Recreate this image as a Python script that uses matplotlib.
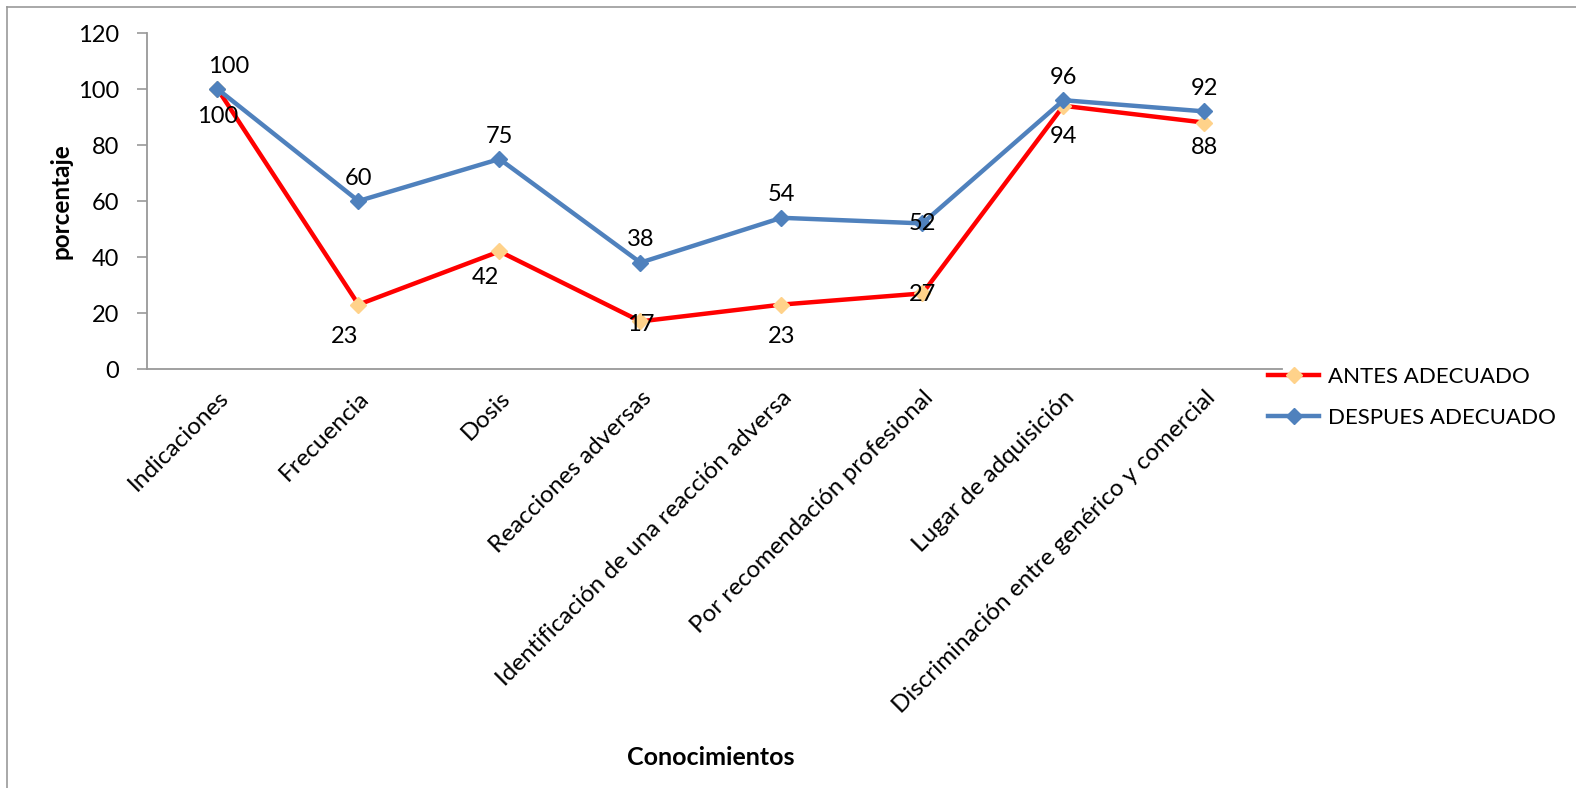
import matplotlib
matplotlib.use("Agg")
import matplotlib.pyplot as plt
from matplotlib.lines import Line2D

categories = ["Indicaciones", "Frecuencia", "Dosis", "Reacciones adversas",
              "Identificación de una reacción adversa", "Por recomendación profesional",
              "Lugar de adquisición", "Discriminación entre genérico y comercial"]
antes = [100, 23, 42, 17, 23, 27, 94, 88]
despues = [100, 60, 75, 38, 54, 52, 96, 92]
yticks = [0, 20, 40, 60, 80, 100, 120]

plt.rcParams['font.family'] = ['Lato', 'DejaVu Sans']

fig = plt.figure(figsize=(15.76, 7.88), dpi=100)
ax = fig.add_axes([147/1576, 1-369/788, (1282-147)/1576, (369-33)/788])

x = list(range(len(categories)))
red = '#FF0000'
orange = '#FFD28A'
blue = '#4F81BD'

ax.plot(x, antes, color=red, lw=3.2, marker='D', ms=8, mfc=orange, mec=orange, zorder=3)
ax.plot(x, despues, color=blue, lw=3.2, marker='D', ms=8, mfc=blue, mec=blue, zorder=4)

ax.set_xlim(-0.5, len(categories) - 0.45)
ax.set_ylim(0, 120)
ax.set_yticks(yticks)
ax.set_yticklabels([str(v) for v in yticks], fontsize=17)
ax.set_xticks(x)
ax.set_xticklabels(categories, rotation=45, ha='right', rotation_mode='anchor', fontsize=17.5)
ax.tick_params(axis='x', length=0, pad=13)
ax.tick_params(axis='y', length=7, color='#999999', width=1.2, pad=13)

for s in ['top', 'right']:
    ax.spines[s].set_visible(False)
for s in ['left', 'bottom']:
    ax.spines[s].set_color('#999999')
    ax.spines[s].set_linewidth(1.3)

# data labels
fs = 17
for i, v in enumerate(despues):
    ax.annotate(str(v), (i, v), xytext=((8 if i == 0 else 0), 16.5 if i != 5 else 0),
                textcoords='offset points', ha='center', va='center', fontsize=fs, zorder=6)
antes_offsets = [(0, -20), (-10, -23), (-10, -19), (0, -2), (0, -23), (0, -1), (0, -22), (0, -18)]
for i, (v, off) in enumerate(zip(antes, antes_offsets)):
    ax.annotate(str(v), (i, v), xytext=off, textcoords='offset points',
                ha='center', va='center', fontsize=fs, zorder=6)

ax.set_xlabel("Conocimientos", fontsize=18, fontweight='bold')
ax.xaxis.set_label_coords((711-147)/(1282-147), (369-746)/(369-33))
ax.set_ylabel("porcentaje", fontsize=17.5, fontweight='bold')
ax.yaxis.set_label_coords((73-147)/(1282-147), (369-201)/(369-33))

handles = [Line2D([], [], color=red, lw=3.2, marker='D', ms=8, mfc=orange, mec=orange),
           Line2D([], [], color=blue, lw=3.2, marker='D', ms=8, mfc=blue, mec=blue)]
fig.legend(handles, ["ANTES ADECUADO", "DESPUES ADECUADO"], loc='upper left',
           bbox_to_anchor=(1248/1576, 1-347/788), frameon=False, fontsize=16,
           handlelength=2.3, labelspacing=0.95, handletextpad=0.4)

# outer chart border
fig.add_artist(Line2D([7/1576, 7/1576], [0, 1-7/788], color='#999999', lw=1.2, transform=fig.transFigure))
fig.add_artist(Line2D([7/1576, 1], [1-7/788, 1-7/788], color='#999999', lw=1.2, transform=fig.transFigure))

fig.savefig("out.png", dpi=100)
